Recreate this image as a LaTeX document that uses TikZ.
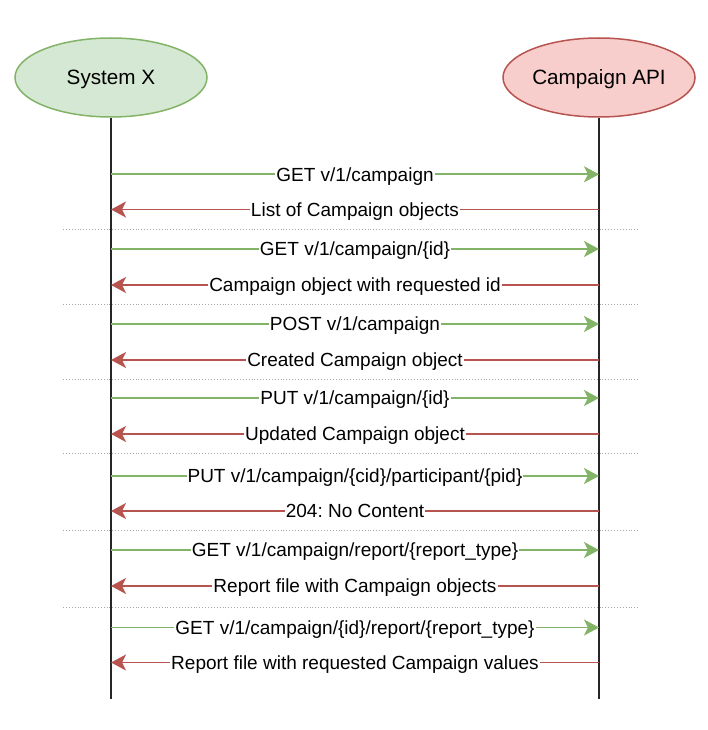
\documentclass[tikz,border=0pt]{standalone}
\usepackage{fontspec}
\setmainfont{Liberation Sans}
\usetikzlibrary{arrows.meta,shapes.geometric}
\definecolor{gline}{HTML}{82B366}
\definecolor{gfill}{HTML}{D5E8D4}
\definecolor{rline}{HTML}{B85450}
\definecolor{rfill}{HTML}{F8CECC}
\tikzset{
  actor/.style={ellipse, draw=#1line, fill=#1fill, line width=1.5pt, minimum width=192pt, minimum height=79pt, inner sep=0pt, text height=14.8pt, text depth=0pt, font=\fontsize{20.7pt}{24pt}\selectfont},
  lifeline/.style={line width=1.8pt, black!85},
  sep/.style={line width=0.9pt, gray!70, dotted},
  req/.style={gline, line width=1.8pt, -{Stealth[length=15pt, width=16pt, inset=4pt]}},
  resp/.style={rline, line width=1.8pt, -{Stealth[length=15pt, width=16pt, inset=4pt]}},
  lbl/.style={fill=white, inner xsep=1pt, inner ysep=3pt, text height=13.8pt, text depth=0pt, text=black, font=\fontsize{19pt}{22pt}\selectfont}
}
\begin{document}
\begin{tikzpicture}[x=1pt, y=-1pt]
\frenchspacing
\useasboundingbox (0,0) rectangle (708,730);
\node[actor=g] (sx) at (111,77.5) {System X};
\node[actor=r] (api) at (599,77.5) {Campaign API};
\coordinate (sxb) at (111,699);
\coordinate (apib) at (599,699);
\draw[lifeline] (sx.south) -- (sxb);
\draw[lifeline] (api.south) -- (apib);
% separators
\foreach \y/\n in {229/1,304/2,379/3,453/4,530/5,607/6} {
  \coordinate (sl\n) at (63,\y);
  \coordinate (sr\n) at (639,\y);
  \draw[sep] (sl\n) -- (sr\n);
}
% messages
\foreach \y/\n/\t in {174.3/1/{GET v/1/campaign}, 249/3/{GET v/1/campaign/\{id\}}, 324/5/{POST v/1/campaign}, 398/7/{PUT v/1/campaign/\{id\}}, 476/9/{PUT v/1/campaign/\{cid\}/participant/\{pid\}}, 550/11/{GET v/1/campaign/report/\{report\_type\}}, 627.5/13/{GET v/1/campaign/\{id\}/report/\{report\_type\}}} {
  \coordinate (ma\n) at (111,\y);
  \coordinate (mb\n) at (599,\y);
  \draw[req] (ma\n) -- node[lbl] {\t} (mb\n);
}
\foreach \y/\n/\t in {209.5/2/{List of Campaign objects}, 285/4/{Campaign object with requested id}, 360/6/{Created Campaign object}, 434/8/{Updated Campaign object}, 511/10/{204: No Content}, 586/12/{Report file with Campaign objects}, 662.5/14/{Report file with requested Campaign values}} {
  \coordinate (ma\n) at (599,\y);
  \coordinate (mb\n) at (111,\y);
  \draw[resp] (ma\n) -- node[lbl] {\t} (mb\n);
}
\end{tikzpicture}
\end{document}
